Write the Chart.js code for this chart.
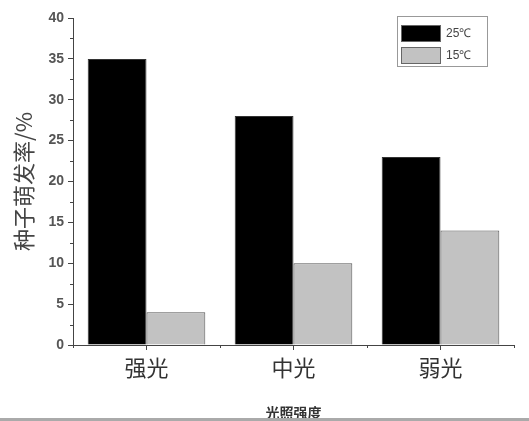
<!DOCTYPE html>
<html>
<head>
<meta charset="utf-8">
<script src="https://cdn.jsdelivr.net/npm/chart.js@4/dist/chart.umd.min.js"></script>
<style>
  html, body { margin: 0; padding: 0; background: #fff; }
  #wrap { width: 529px; height: 421px; position: relative; }
</style>
</head>
<body>
<div id="wrap"><canvas id="chart"></canvas></div>
<script>
// data
const categories = ["强光", "中光", "弱光"];
const seriesNames = ["25℃", "15℃"];
const warmValues = [35, 28, 23];
const coolValues = [4, 10, 14];
const yTicks = [0, 5, 10, 15, 20, 25, 30, 35, 40];

// minor ticks and the little legend box
const extras = {
    id: "extras",
    afterDraw: function (chart) {
        const ctx = chart.ctx;
        const y = chart.scales.y;
        const x = chart.scales.x;
        ctx.save();
        ctx.strokeStyle = "#444";
        ctx.lineWidth = 1;
        // y minor ticks
        for (let i = 0; i < yTicks.length - 1; i++) {
            const v = (yTicks[i] + yTicks[i + 1]) / 2;
            const py = Math.round(y.getPixelForValue(v)) + 0.5;
            ctx.beginPath();
            ctx.moveTo(y.right - 3, py);
            ctx.lineTo(y.right, py);
            ctx.stroke();
        }
        // x minor ticks at category boundaries
        for (let i = 0; i <= categories.length; i++) {
            const px = Math.round(x.getPixelForValue(i - 0.5)) + 0.5;
            ctx.beginPath();
            ctx.moveTo(px, x.top);
            ctx.lineTo(px, x.top + 3);
            ctx.stroke();
        }
        // legend
        const lx = 397, ly = 16, lw = 90, lh = 50;
        ctx.strokeStyle = "#999";
        ctx.strokeRect(lx + 0.5, ly + 0.5, lw, lh);
        const ds = chart.data.datasets;
        for (let i = 0; i < ds.length; i++) {
            const sy = 25 + i * 22;
            ctx.fillStyle = ds[i].backgroundColor;
            ctx.fillRect(401, sy, 39, 16);
            ctx.strokeStyle = "#666";
            ctx.strokeRect(401.5, sy + 0.5, 39, 16);
            ctx.fillStyle = "#444";
            ctx.font = "12px 'Liberation Sans', Arial, sans-serif";
            ctx.textBaseline = "middle";
            ctx.textAlign = "left";
            ctx.fillText(ds[i].label, 446, sy + 9);
        }
        // bottom strip
        ctx.fillStyle = "#aaa";
        ctx.fillRect(0, 418, chart.width, 3);
        ctx.restore();
    }
};

const ctx = document.getElementById("chart").getContext("2d");
const myChart = new Chart(ctx, {
    type: "bar",
    data: {
        labels: categories,
        datasets: [{
            label: seriesNames[0],
            data: warmValues,
            backgroundColor: "#000000",
            borderColor: "#333333",
            borderWidth: 1,
            categoryPercentage: 0.8,
            barPercentage: 1.0
        }, {
            label: seriesNames[1],
            data: coolValues,
            backgroundColor: "#c2c2c2",
            borderColor: "#555555",
            borderWidth: 1,
            categoryPercentage: 0.8,
            barPercentage: 1.0
        }]
    },
    options: {
        responsive: true,
        maintainAspectRatio: false,
        animation: false,
        layout: { padding: { left: 0, top: 18, right: 15, bottom: 0 } },
        plugins: {
            legend: { display: false },
            tooltip: { enabled: false }
        },
        scales: {
            x: {
                offset: true,
                border: { display: true, color: "#444", width: 1 },
                grid: { display: true, drawOnChartArea: false, drawTicks: true, tickLength: 5, offset: false, color: "#444" },
                ticks: {
                    color: "#333",
                    padding: 4,
                    font: { size: 22, family: "'Noto Sans CJK SC', sans-serif" }
                },
                title: {
                    display: true,
                    text: "光照强度",
                    color: "#333",
                    padding: { top: 6, bottom: 0 },
                    font: { size: 14, weight: "bold", family: "'Noto Sans CJK SC', sans-serif" }
                },
                afterFit: function (scale) { scale.height = 76; }
            },
            y: {
                min: 0,
                max: 40,
                border: { display: true, color: "#444", width: 1 },
                grid: { display: true, drawOnChartArea: false, drawTicks: true, tickLength: 5, color: "#444" },
                ticks: {
                    stepSize: 5,
                    color: "#555",
                    padding: 4,
                    font: { size: 14, weight: "bold", family: "'Liberation Sans', Arial, sans-serif" }
                },
                title: {
                    display: true,
                    text: "种子萌发率/%",
                    color: "#444",
                    padding: { top: 10, bottom: 0 },
                    font: { size: 22, family: "'Noto Sans CJK SC', sans-serif" }
                },
                afterFit: function (scale) { scale.width = 73; }
            }
        }
    },
    plugins: [extras]
});
</script>
</body>
</html>
